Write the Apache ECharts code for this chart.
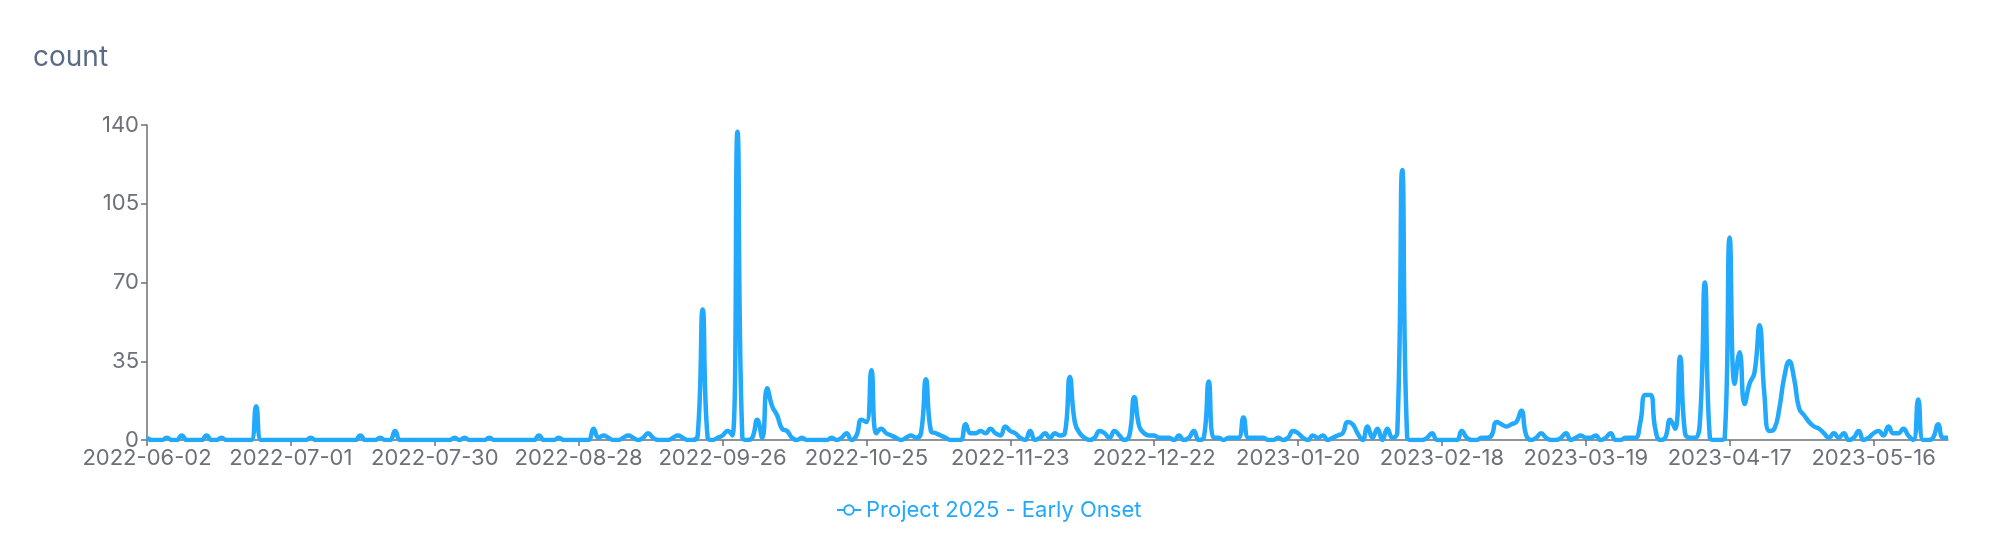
<!DOCTYPE html>
<html>
<head>
<meta charset="utf-8">
<script src="https://cdn.jsdelivr.net/npm/echarts@6/dist/echarts.min.js"></script>
<style>
html,body{margin:0;padding:0;background:#fff;}
#chart{width:1999px;height:541px;}
</style>
</head>
<body>
<div id="chart"></div>
<script>
// ---- data ----
const startDate = '2022-06-02';
const seriesName = 'Project 2025 - Early Onset';
const yTicks = [0, 35, 70, 105, 140];
const counts = [
  1,0,0,0,1,0,0,2,0,0,
  0,0,2,0,0,1,0,0,0,0,
  0,0,15,0,0,0,0,0,0,0,
  0,0,0,1,0,0,0,0,0,0,
  0,0,0,2,0,0,0,1,0,0,
  4,0,0,0,0,0,0,0,0,0,
  0,0,1,0,1,0,0,0,0,1,
  0,0,0,0,0,0,0,0,0,2,
  0,0,0,1,0,0,0,0,0,0,
  5,1,2,1,0,0,1,2,1,0,
  1,3,1,0,0,0,1,2,1,0,
  0,2,58,1,0,1,2,4,2,137,
  1,0,1,9,1,23,15,11,5,4,
  1,0,1,0,0,0,0,0,1,0,
  1,3,0,2,9,8,31,3,5,3,
  2,1,0,1,2,1,3,27,4,3,
  2,1,0,0,0,7,3,3,4,3,
  5,3,2,6,4,3,1,0,4,0,
  1,3,1,3,2,3,28,8,3,1,
  0,1,4,3,1,4,2,0,2,19,
  6,3,2,2,1,1,1,0,2,0,
  1,4,0,1,26,1,1,0,1,1,
  1,10,1,1,1,1,0,0,1,0,
  1,4,3,1,0,2,1,2,0,1,
  2,3,8,7,3,0,6,1,5,0,
  5,1,3,120,1,0,0,0,1,3,
  0,0,0,0,0,4,1,0,0,1,
  1,2,8,7,6,7,8,13,2,0,
  1,3,1,0,0,1,3,0,1,2,
  1,1,2,0,1,3,0,0,1,1,
  1,8,20,20,5,0,1,9,5,37,
  3,1,1,8,70,1,0,0,1,90,
  25,39,16,25,30,51,20,4,5,14,
  28,35,27,14,11,8,6,5,3,1,
  3,1,3,0,1,4,0,1,3,4,
  2,6,3,3,5,2,0,18,0,0,
  1,7,1,1
];

// category dates (one per day)
const dates = [];
(function () {
  const d = new Date(startDate + 'T00:00:00Z');
  for (let k = 0; k < counts.length; k++) {
    dates.push(d.toISOString().slice(0, 10));
    d.setUTCDate(d.getUTCDate() + 1);
  }
})();

const FONT = 'Inter, "Noto Sans", sans-serif';
const LINE_COLOR = '#22a9fb';

const chart = echarts.init(document.getElementById('chart'), null, {renderer: 'canvas'});
chart.setOption({
  animation: false,
  title: {
    text: 'count',
    left: 28,
    top: 39,
    textStyle: {fontFamily: FONT, fontSize: 28, fontWeight: 'normal', color: '#5b6a85'}
  },
  legend: {
    data: [seriesName],
    bottom: 15,
    left: 831,
    itemWidth: 24,
    itemHeight: 12,
    itemGap: 10,
    textStyle: {fontFamily: FONT, fontSize: 22, color: LINE_COLOR}
  },
  grid: {left: 147, right: 51, top: 125, bottom: 101, containLabel: false},
  xAxis: {
    type: 'category',
    data: dates,
    boundaryGap: false,
    axisLine: {show: true, lineStyle: {color: '#6e7079', width: 1.5}},
    axisTick: {show: true, interval: 28, length: 6, lineStyle: {color: '#6e7079', width: 1.5}},
    axisLabel: {interval: 28, margin: 7, fontFamily: FONT, fontSize: 22, color: '#6e7079'},
    splitLine: {show: false}
  },
  yAxis: {
    type: 'value',
    min: yTicks[0],
    max: yTicks[yTicks.length - 1],
    interval: yTicks[1] - yTicks[0],
    axisLine: {show: true, lineStyle: {color: '#6e7079', width: 1.5}},
    axisTick: {show: true, length: 6, lineStyle: {color: '#6e7079', width: 1.5}},
    axisLabel: {margin: 8, fontFamily: FONT, fontSize: 22, color: '#6e7079'},
    splitLine: {show: false}
  },
  series: [{
    name: seriesName,
    type: 'line',
    data: counts,
    smooth: true,
    showSymbol: false,
    symbol: 'emptyCircle',
    lineStyle: {width: 4.5, color: LINE_COLOR},
    itemStyle: {color: LINE_COLOR}
  }]
});
</script>
</body>
</html>
